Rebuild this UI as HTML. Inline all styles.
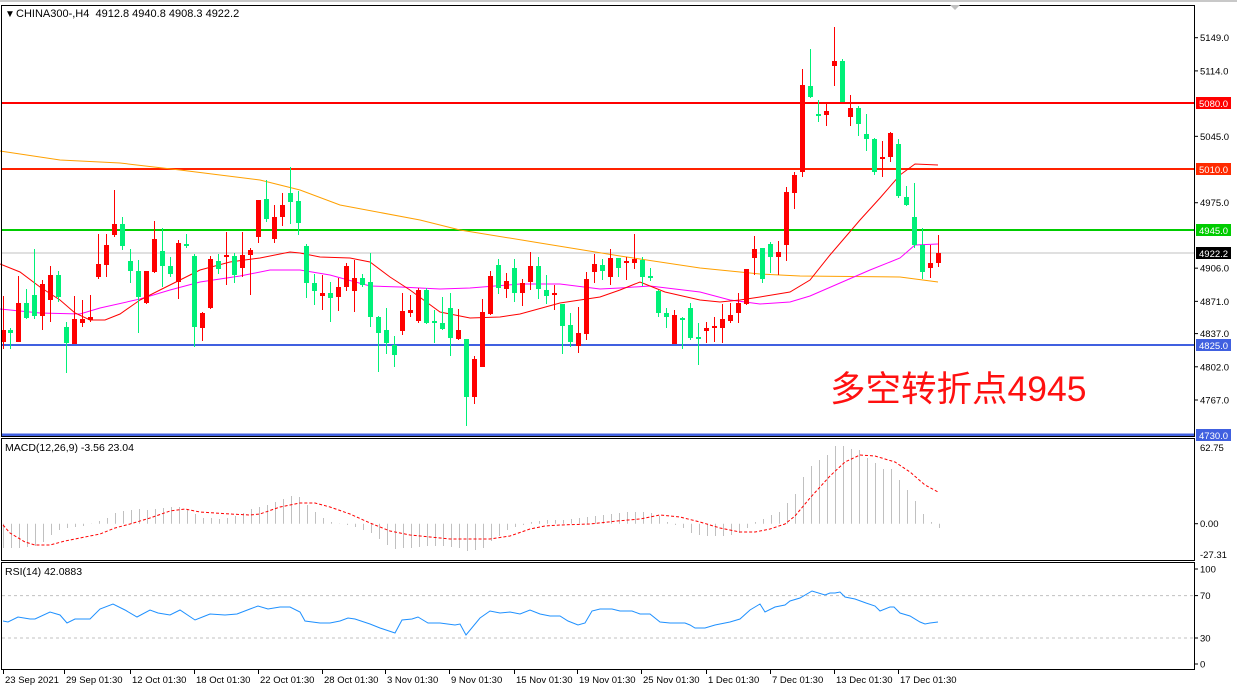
<!DOCTYPE html>
<html><head><meta charset="utf-8"><style>
html,body{margin:0;padding:0;background:#fff;}
svg{display:block;font-family:"Liberation Sans",Arial,sans-serif;}
</style></head><body>
<svg id="s" width="1237" height="694" xmlns="http://www.w3.org/2000/svg">
<rect width="1237" height="694" fill="#fff"/>
<line x1="0" y1="1" x2="1237" y2="1" stroke="#c8c8c8" stroke-width="2"/>
<g id="g"></g>
<rect x="1.5" y="5.5" width="1193" height="431" fill="none" stroke="#000"/>
<rect x="1.5" y="438.5" width="1193" height="122" fill="none" stroke="#000"/>
<rect x="1.5" y="562.5" width="1193" height="107" fill="none" stroke="#000"/>
<polygon points="950,5 960,5 955,10" fill="#c0c0c0"/>
<text x="5" y="17" font-size="10">▼</text>
<text x="16" y="17" font-size="11">CHINA300-,H4&#160;&#160;4912.8 4940.8 4908.3 4922.2</text>
<text x="5" y="451" font-size="10.5">MACD(12,26,9) -3.56 23.04</text>
<text x="5" y="575" font-size="10.5">RSI(14) 42.0883</text>
<text x="830" y="401" font-size="35.5" fill="#ff1010" font-family="'Liberation Sans','Noto Sans CJK SC',sans-serif">多空转折点4945</text>
</svg>
<script>
var g=document.getElementById('g'),h='';
function L(x1,y1,x2,y2,c,w,extra){h+='<line x1="'+x1+'" y1="'+y1+'" x2="'+x2+'" y2="'+y2+'" stroke="'+c+'" stroke-width="'+(w||1)+'" '+(extra||'')+'/>';}
function T(x,y,t,fs,fill,anchor){h+='<text x="'+x+'" y="'+y+'" font-size="'+(fs||10.5)+'" fill="'+(fill||'#000')+'"'+(anchor?' text-anchor="'+anchor+'"':'')+'>'+t+'</text>';}
function P(pts,c,w,extra){h+='<polyline fill="none" stroke="'+c+'" stroke-width="'+(w||1)+'" '+(extra||'')+' points="'+pts.map(function(p){return p.join(',')}).join(' ')+'"/>';}
function Y(p){return 37.7+(5149-p)*0.9484;}
L(2,253,1194,253,'#c0c0c0',1);
L(2,103,1194,103,'#ff0000',2);
L(2,169,1194,169,'#ff2200',2);
L(2,230,1194,230,'#00cc00',2);
L(2,345,1194,345,'#4060e0',2);
L(2,435,1194,435,'#4060e0',3);
P([[0,151],[60,160],[120,163],[180,170],[260,180],[300,190],[340,205],[420,220],[460,230],[540,243],[620,256],[700,268],[760,274],[800,276],[900,277],[938,282]],'#ffa000',1);
P([[0,309],[40,313],[80,314],[100,308],[140,299],[170,290],[200,282],[240,276],[270,270],[300,270],[330,275],[370,286],[400,287],[440,289],[470,288],[520,284],[560,284],[600,289],[620,288],[650,286],[700,292],[730,300],[760,304],[790,302],[810,296],[840,283],[870,270],[900,258],[915,245],[938,244]],'#ff00ff',1);
P([[0,264],[20,272],[40,287],[60,300],[75,313],[90,320],[105,320],[120,314],[140,300],[160,290],[180,280],[200,270],[230,262],[260,258],[290,252],[300,253],[320,257],[350,258],[370,262],[390,277],[410,290],[440,312],[470,318],[500,317],[520,314],[560,303],[600,297],[620,290],[640,282],[650,286],[665,292],[700,300],[720,302],[740,300],[760,297],[790,292],[810,280],[830,255],[860,220],[880,198],[900,175],[915,164],[938,165]],'#ff0000',1);
var C=[[3,0,330,342,296,349],[10,1,330,333,328,349],[18,0,303,342,276,342],[26,1,303,318,289,319],[34,1,295,316,249,319],[42,0,284,316,280,330],[50,0,275,300,266,322],[58,1,275,297,271,302],[66,1,327,343,322,373],[74,0,319,344,296,344],[82,0,319,323,300,327],[90,0,317,320,295,322],[98,0,264,277,234,279],[106,0,245,265,234,277],[114,0,224,235,190,237],[122,1,224,246,217,250],[130,1,261,271,249,283],[138,1,271,297,260,333],[146,0,271,303,271,304],[154,0,239,272,221,273],[162,1,251,266,228,287],[170,1,266,274,257,277],[178,0,243,282,240,299],[186,1,244,246,234,248],[194,1,256,327,254,347],[202,0,313,328,312,341],[210,0,259,308,256,309],[218,1,261,269,254,274],[226,0,255,257,232,285],[234,1,256,275,253,283],[242,0,255,268,232,277],[250,0,250,255,248,295],[258,0,200,237,200,243],[266,1,199,219,180,222],[274,0,217,239,205,243],[282,0,205,217,193,226],[290,1,193,202,167,224],[298,1,201,223,191,235],[306,1,246,283,244,298],[314,1,283,291,274,305],[322,0,293,296,275,310],[330,1,293,298,282,322],[338,0,287,297,278,311],[346,0,266,287,263,291],[354,0,278,291,260,312],[362,1,278,285,274,287],[370,1,282,317,253,327],[378,1,317,333,316,372],[386,1,330,343,308,354],[394,1,345,355,336,367],[402,0,311,331,293,335],[410,0,310,313,295,317],[418,0,290,321,288,323],[426,1,290,323,288,324],[434,1,321,323,310,343],[442,1,323,329,297,330],[450,1,308,338,293,356],[458,0,330,339,309,340],[466,1,339,397,339,426],[474,0,359,397,356,404],[482,0,312,367,299,367],[490,0,276,314,271,315],[498,1,265,288,259,294],[506,0,281,289,273,298],[514,1,268,293,259,302],[522,0,283,293,279,306],[530,0,266,282,252,290],[538,1,266,289,257,299],[546,1,290,296,275,304],[554,0,293,295,285,310],[562,1,304,326,304,354],[570,1,325,342,313,347],[578,0,333,346,307,353],[586,0,279,334,272,340],[594,0,264,272,254,283],[602,1,265,271,259,280],[610,0,258,277,249,285],[618,1,258,268,258,277],[626,0,261,263,257,280],[634,0,259,263,234,269],[642,1,260,277,257,286],[650,1,276,278,268,281],[658,1,291,313,290,317],[666,1,313,317,308,328],[674,0,315,344,310,344],[682,1,318,320,317,349],[690,1,308,338,303,340],[698,1,337,339,323,365],[706,0,328,331,322,343],[714,0,326,328,317,342],[722,0,319,328,304,343],[730,0,315,321,303,323],[738,0,303,313,293,323],[746,0,269,304,269,305],[754,0,249,258,236,275],[762,1,248,279,248,283],[770,1,244,257,242,273],[778,0,252,257,241,275],[786,0,192,245,187,261],[794,0,175,193,172,209],[802,0,85,172,69,177],[810,1,86,97,49,98],[818,1,114,116,100,122],[826,0,111,115,104,126],[834,0,61,66,27,86],[842,1,61,102,59,102],[850,0,108,117,95,126],[858,1,108,124,106,136],[866,1,134,139,114,151],[874,1,139,172,138,175],[882,0,157,159,141,177],[890,0,133,157,132,162],[898,1,144,196,139,198],[906,1,197,205,186,206],[914,1,217,245,183,248],[922,1,245,272,228,279],[930,0,263,268,245,278],[938,0,253,263,235,267]];
C.forEach(function(c){var col=c[1]?'#00f078':'#ff0000';L(c[0]+.5,c[4],c[0]+.5,c[5],col,1);var bh=Math.max(c[3]-c[2],1.5);h+='<rect x="'+(c[0]-2)+'" y="'+c[2]+'" width="5" height="'+bh+'" fill="'+col+'"/>';});
[[5149,'5149.0'],[5114,'5114.0'],[5045,'5045.0'],[4975,'4975.0'],[4906,'4906.0'],[4871,'4871.0'],[4837,'4837.0'],[4802,'4802.0'],[4767,'4767.0']].forEach(function(a){var y=Y(a[0]);L(1195,y,1198,y,'#000',1);T(1200,y+3.5,a[1],9.5);});
function box(y,t,bg,fg){h+='<rect x="1196" y="'+(y-6)+'" width="35" height="12" fill="'+bg+'"/>';T(1199,y+4,t,9.5,fg||'#fff');}
box(103,'5080.0','#ff0000');box(169,'5010.0','#ff2a00');box(230,'4945.0','#00cc00');box(253,'4922.2','#000');box(345,'4825.0','#4060e0');box(435,'4730.0','#4060e0');
var Z=523.7;
var H=[[3,548],[11,548],[19,548],[27,547],[35,546],[43,542],[51,535],[59,530],[67,528],[75,527],[83,526],[91,524],[99,521],[107,518],[115,513],[123,511],[131,510],[139,509],[147,510],[155,509],[163,508],[171,507],[179,507],[187,510],[195,514],[203,518],[211,518],[219,519],[227,518],[235,516],[243,513],[251,509],[259,507],[267,505],[275,502],[283,499],[291,496],[299,497],[307,505],[315,512],[323,518],[331,522],[339,524],[347,525],[355,527],[363,530],[371,533],[379,539],[387,545],[395,549],[403,548],[411,548],[419,547],[427,546],[435,546],[443,546],[451,547],[459,548],[467,551],[475,550],[483,548],[491,541],[499,536],[507,530],[515,527],[523,525],[531,522],[539,521],[547,520],[555,520],[563,520],[571,519],[579,518],[587,517],[595,516],[603,515],[611,514],[619,513],[627,512],[635,512],[643,512],[651,513],[659,516],[667,522],[675,525],[683,528],[691,533],[699,535],[707,536],[715,536],[723,536],[731,535],[739,533],[747,528],[755,522],[763,519],[771,515],[779,512],[787,503],[795,494],[803,477],[811,466],[819,460],[827,455],[835,446],[843,446],[851,449],[859,450],[867,458],[875,463],[883,469],[891,469],[899,480],[907,490],[915,501],[923,514],[931,522],[939,528]];
H.forEach(function(b){L(b[0]+.5,Z,b[0]+.5,b[1],'#c0c0c0',1);});
P([[3,525],[10,533],[25,542],[35,545],[50,545],[65,541],[80,538],[100,534],[115,528],[130,524],[150,518],[170,511],[185,509],[200,512],[230,514],[250,515],[260,514],[280,507],[300,503],[315,503],[330,507],[350,514],[370,523],[390,531],[410,535],[430,537],[450,539],[470,539],[490,539],[510,536],[530,529],[545,526],[560,525],[590,524],[617,521],[640,519],[660,515],[680,517],[700,522],[720,528],[740,532],[755,532],[770,529],[785,524],[795,516],[810,498],[830,476],[845,462],[860,455],[875,456],[895,462],[910,472],[925,485],[938,492]],'#ff0000',1,'stroke-dasharray="3,2"');
L(1195,523.7,1198,523.7,'#000');T(1200,527,'0.00',9.5);T(1200,451,'62.75',9.5);T(1200,558,'-27.31',9.5);
L(2,595.6,1194,595.6,'#c0c0c0',1,'stroke-dasharray="3,3"');L(2,638,1194,638,'#c0c0c0',1,'stroke-dasharray="3,3"');
P([[3,621],[8,622],[18,617],[30,619],[35,619],[50,612],[60,615],[67,623],[75,619],[90,619],[100,609],[113,604],[125,610],[137,617],[150,610],[158,613],[170,615],[180,610],[195,620],[205,616],[210,614],[225,615],[237,614],[250,609],[258,606],[268,609],[280,607],[290,607],[300,612],[305,621],[320,623],[330,623],[340,621],[348,618],[355,619],[370,624],[380,628],[395,633],[402,620],[412,619],[418,617],[428,623],[440,623],[455,625],[460,624],[466,635],[480,618],[490,611],[500,613],[510,612],[520,614],[530,610],[540,614],[550,616],[560,616],[568,621],[578,625],[585,623],[592,611],[600,609],[612,609],[620,611],[632,611],[640,614],[650,614],[660,622],[670,623],[685,623],[690,625],[695,628],[705,628],[715,625],[730,622],[740,619],[750,610],[760,604],[765,612],[775,607],[785,605],[790,601],[800,598],[812,591],[825,595],[830,593],[835,593],[840,592],[845,597],[855,599],[866,603],[875,606],[880,611],[890,607],[894,607],[900,613],[910,616],[920,622],[925,624],[930,623],[938,622]],'#1e90ff',1);
[[569,'100'],[595.6,'70'],[638,'30'],[664,'0']].forEach(function(a){L(1195,a[0],1198,a[0],'#000');T(1200,a[0]+3.5,a[1],9.5);});
[[3,'23 Sep 2021'],[64,'29 Sep 01:30'],[130,'12 Oct 01:30'],[194,'18 Oct 01:30'],[258,'22 Oct 01:30'],[322,'28 Oct 01:30'],[385,'3 Nov 01:30'],[449,'9 Nov 01:30'],[514,'15 Nov 01:30'],[577,'19 Nov 01:30'],[641,'25 Nov 01:30'],[706,'1 Dec 01:30'],[770,'7 Dec 01:30'],[834,'13 Dec 01:30'],[898,'17 Dec 01:30']].forEach(function(d){L(d[0]+.5,670,d[0]+.5,674,'#000');T(d[0]+2,683,d[1],9.5);});
g.innerHTML=h;
</script>
</body></html>
